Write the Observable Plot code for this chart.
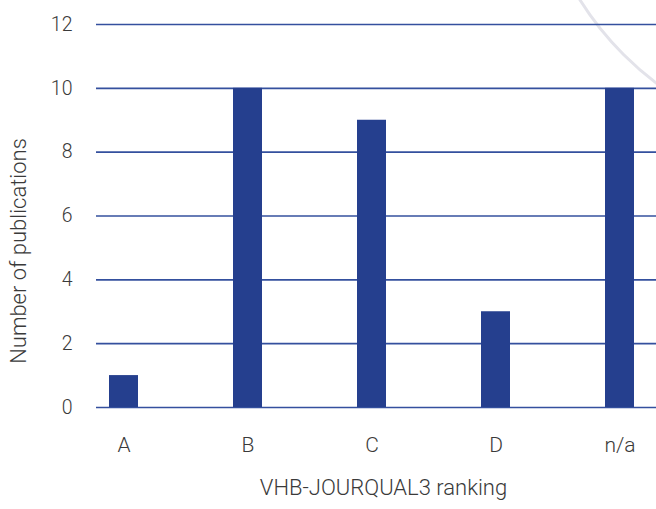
<!DOCTYPE html>
<html>
<head>
<meta charset="utf-8">
<script src="https://cdn.jsdelivr.net/npm/d3@7"></script>
<script src="https://cdn.jsdelivr.net/npm/@observablehq/plot@0.6"></script>
<style>
  html, body { margin: 0; padding: 0; background: #ffffff; }
  #wrap { position: relative; width: 656px; height: 509px; overflow: hidden; }
  #deco { position: absolute; left: 0; top: 0; }
  #chart { position: absolute; left: 0; top: 0; }
</style>
</head>
<body>
<div id="wrap">
  <svg id="deco" width="656" height="509"><circle cx="842" cy="-164" r="309" fill="none" stroke="#e3e3ea" stroke-width="3"/></svg>
  <div id="chart"></div>
</div>
<script>
const categories = ["A", "B", "C", "D", "n/a"];
const counts = [1, 10, 9, 3, 10];
const yTicks = [0, 2, 4, 6, 8, 10, 12];
const xTitle = "VHB-JOURQUAL3 ranking";
const yTitle = "Number of publications";

const data = categories.map((c, i) => ({cat: c, n: counts[i]}));

const chart = Plot.plot({
  width: 656,
  height: 509,
  marginLeft: 96,
  marginRight: 0,
  marginTop: 24,
  marginBottom: 102,
  style: {fontFamily: "Roboto, 'Open Sans', sans-serif", fontWeight: 300, fontSize: "19px", color: "#3a3a3a", background: "transparent"},
  x: {domain: categories, paddingInner: 0.7675, paddingOuter: 0.128, align: 0.375, label: null},
  y: {domain: [0, 12], ticks: yTicks, label: null},
  marks: [
    Plot.ruleY(yTicks, {stroke: "#34509e", strokeWidth: 1.6}),
    Plot.barY(data, {x: "cat", y: "n", fill: "#253f8e"}),
    Plot.axisY({ticks: yTicks, tickSize: 0, tickPadding: 24, label: null, fontSize: 19.5}),
    Plot.axisX({tickSize: 0, tickPadding: 30, label: null, fontSize: 21}),
    Plot.text([xTitle], {frameAnchor: "bottom", dx: 7, dy: 87, fontSize: 22, fill: "#3a3a3a"}),
    Plot.text([yTitle], {frameAnchor: "left", textAnchor: "middle", dx: -78, dy: 35, rotate: -90, fontSize: 22, fill: "#3a3a3a"})
  ]
});
document.getElementById("chart").appendChild(chart);
</script>
</body>
</html>
